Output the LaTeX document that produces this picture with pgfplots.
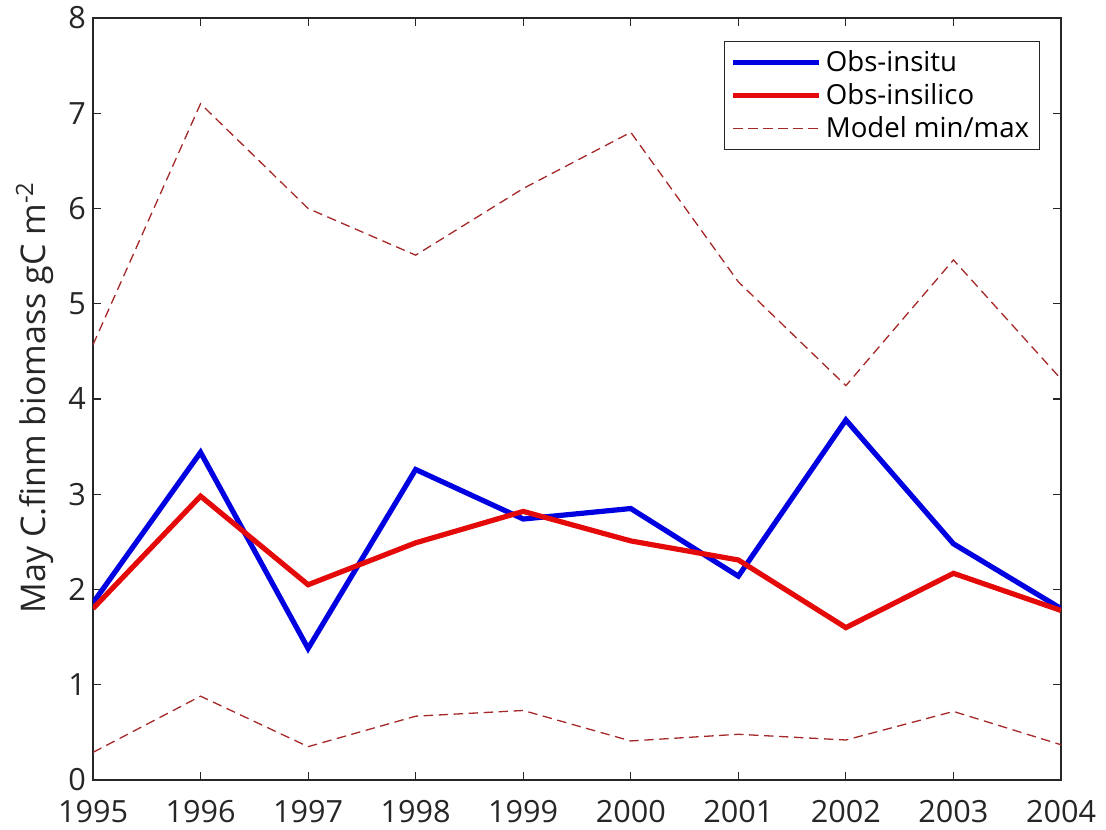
\documentclass[border=0pt]{standalone}
\usepackage{pgfplots}
\pgfplotsset{compat=1.18}
\usepackage{fontspec}
\setmainfont{Open Sans}
\definecolor{axgray}{RGB}{38,38,38}
\definecolor{insitu}{RGB}{0,0,225}
\definecolor{insilico}{RGB}{228,10,10}
\definecolor{modelc}{RGB}{165,40,40}
\begin{document}
\begin{tikzpicture}
\begin{axis}[
  scale only axis,
  width=484pt, height=381pt,
  xmin=1995, xmax=2004, ymin=0, ymax=8,
  xtick={1995,1996,...,2004},
  ytick={0,1,...,8},
  /pgf/number format/1000 sep={},
  /pgf/number format/assume math mode=true,
  tick align=inside,
  major tick length=4pt,
  axis line style={axgray, line width=0.6pt},
  every tick/.style={axgray, line width=0.6pt},
  tick label style={font=\fontsize{15.3}{18}\selectfont, text=axgray},
  xticklabel style={yshift=-6.5pt},
  ylabel={May C.finm biomass gC m\textsuperscript{-2}},
  every axis y label/.style={at={(axis description cs:-0.06,0.502)}, rotate=90, anchor=center,
    font=\fontsize{17}{20}\selectfont, text=axgray},
  legend style={at={(0.978,0.970)}, anchor=north east, draw=axgray, line width=0.5pt,
    font=\fontsize{13.8}{16}\selectfont, text=black, inner xsep=3pt, inner ysep=2.5pt,
    row sep=0.6pt, fill=white},
  legend cell align=left,
  legend image code/.code={\draw[#1] (-2pt,0pt) -- (41pt,0pt);},
]
\addplot[insitu, line width=2.6pt] coordinates {
 (1995,1.86) (1996,3.44) (1997,1.38) (1998,3.26) (1999,2.74)
 (2000,2.85) (2001,2.14) (2002,3.78) (2003,2.48) (2004,1.80)};
\addlegendentry{Obs-insitu}
\addplot[insilico, line width=2.6pt] coordinates {
 (1995,1.80) (1996,2.98) (1997,2.05) (1998,2.49) (1999,2.82)
 (2000,2.51) (2001,2.31) (2002,1.60) (2003,2.17) (2004,1.78)};
\addlegendentry{Obs-insilico}
\addplot[modelc, line width=0.65pt, dash pattern=on 4.7pt off 2.8pt] coordinates {
 (1995,4.57) (1996,7.10) (1997,6.00) (1998,5.51) (1999,6.21)
 (2000,6.80) (2001,5.23) (2002,4.14) (2003,5.46) (2004,4.21)};
\addlegendentry{Model min/max}
\addplot[modelc, line width=0.65pt, dash pattern=on 4.7pt off 2.8pt, forget plot] coordinates {
 (1995,0.29) (1996,0.88) (1997,0.35) (1998,0.67) (1999,0.73)
 (2000,0.41) (2001,0.48) (2002,0.42) (2003,0.72) (2004,0.37)};
\end{axis}
\path (current axis.south west) ++(-46.5pt,-24.5pt) coordinate (bl);
\path (current axis.north east) ++(22.5pt,9pt) coordinate (tr);
\pgfresetboundingbox
\path[use as bounding box] (bl) rectangle (tr);
\end{tikzpicture}
\end{document}
